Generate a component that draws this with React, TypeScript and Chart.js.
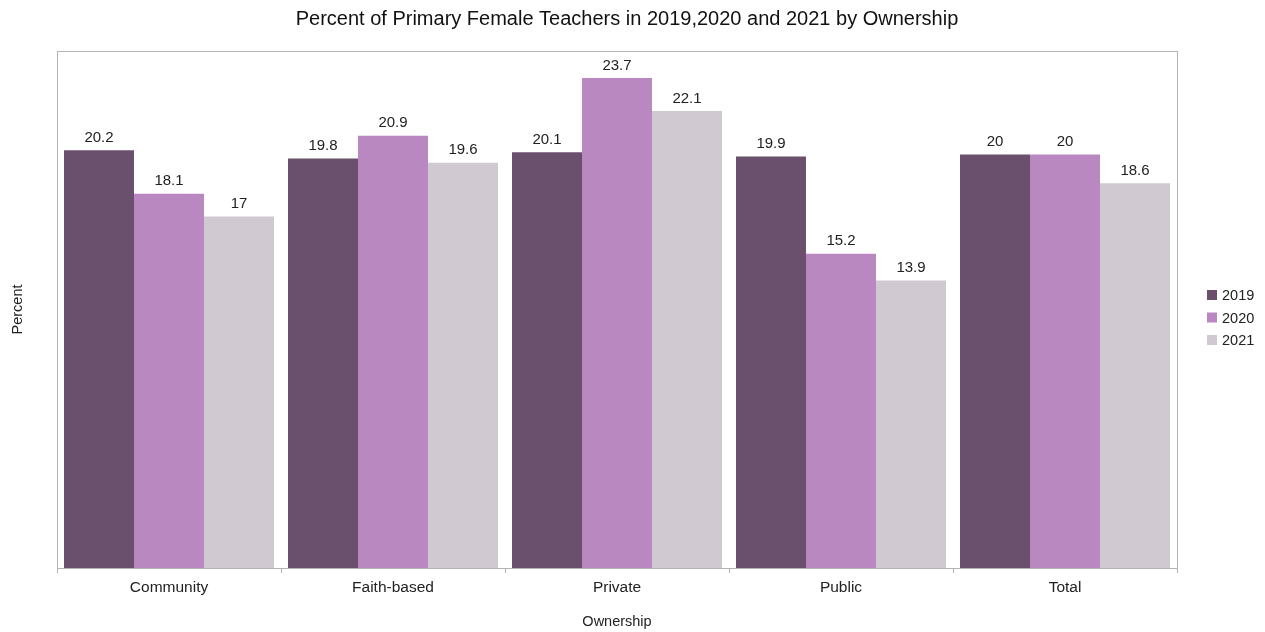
import React, { useEffect, useRef } from "react";
import { Chart, registerables } from "chart.js";

Chart.register(...registerables);

const categories = ["Community", "Faith-based", "Private", "Public", "Total"];
const seriesNames = ["2019", "2020", "2021"];
const values2019 = [20.2, 19.8, 20.1, 19.9, 20];
const values2020 = [18.1, 20.9, 23.7, 15.2, 20];
const values2021 = [17, 19.6, 22.1, 13.9, 18.6];
const colors = ["#6b506e", "#b988c0", "#d0c9d2"];
const titleText = "Percent of Primary Female Teachers in 2019,2020 and 2021 by Ownership";
const xTitle = "Ownership";
const yTitle = "Percent";

const FONT = "'Liberation Sans', Arial, sans-serif";

const decor = {
  id: "decor",
  afterDatasetsDraw(chart: any) {
    const ctx = chart.ctx;
    const a = chart.chartArea;
    ctx.save();
    // plot border
    ctx.strokeStyle = "#b3b3b3";
    ctx.lineWidth = 1;
    ctx.strokeRect(Math.round(a.left) + 0.5, Math.round(a.top) + 0.5, Math.round(a.right - a.left), Math.round(a.bottom - a.top));
    // data labels
    ctx.fillStyle = "#222";
    ctx.font = `15px ${FONT}`;
    ctx.textAlign = "center";
    ctx.textBaseline = "bottom";
    chart.data.datasets.forEach((ds: any, i: number) => {
      const meta = chart.getDatasetMeta(i);
      meta.data.forEach((bar: any, j: number) => {
        ctx.fillText(String(ds.data[j]), bar.x, bar.y - 5);
      });
    });
    // title
    ctx.fillStyle = "#111";
    ctx.font = `20px ${FONT}`;
    ctx.textBaseline = "middle";
    ctx.fillText(titleText, 627, 19);
    // axis titles
    ctx.font = `14.5px ${FONT}`;
    ctx.fillStyle = "#222";
    ctx.fillText(xTitle, (a.left + a.right) / 2, 622);
    ctx.save();
    ctx.translate(18, (a.top + a.bottom) / 2);
    ctx.rotate(-Math.PI / 2);
    ctx.fillText(yTitle, 0, 0);
    ctx.restore();
    // legend
    ctx.font = `14.5px ${FONT}`;
    ctx.textAlign = "left";
    seriesNames.forEach((name, i) => {
      const y = 295 + i * 22.5;
      ctx.fillStyle = colors[i];
      ctx.fillRect(1207, y - 5, 10, 10);
      ctx.fillStyle = "#222";
      ctx.fillText(name, 1222, y + 1);
    });
    ctx.restore();
  },
};

export default function App() {
  const ref = useRef<HTMLCanvasElement>(null);
  useEffect(() => {
    document.body.style.margin = "0";
    const chart = new Chart(ref.current!, {
      type: "bar",
      data: {
        labels: categories,
        datasets: [values2019, values2020, values2021].map((d, i) => ({
          label: seriesNames[i],
          data: d,
          backgroundColor: colors[i],
          borderWidth: 0,
          barPercentage: 1,
          categoryPercentage: 0.9375,
        })),
      },
      options: {
        animation: false,
        responsive: false,
        devicePixelRatio: 1,
        layout: { padding: { left: 57, top: 51, right: 88, bottom: 0 } },
        plugins: { legend: { display: false }, title: { display: false }, tooltip: { enabled: false } },
        scales: {
          y: { display: false, min: 0, max: 25 },
          x: {
            afterFit: (s: any) => { s.height = 64; },
            grid: { offset: true, drawOnChartArea: false, drawTicks: true, tickLength: 5, color: "#b3b3b3" },
            border: { display: true, color: "#b3b3b3" },
            ticks: { color: "#222", font: { family: FONT, size: 15.5 }, padding: 5 },
          },
        },
      },
      plugins: [decor],
    });
    return () => chart.destroy();
  }, []);
  return <canvas ref={ref} width={1265} height={632} style={{ display: "block" }} />;
}
